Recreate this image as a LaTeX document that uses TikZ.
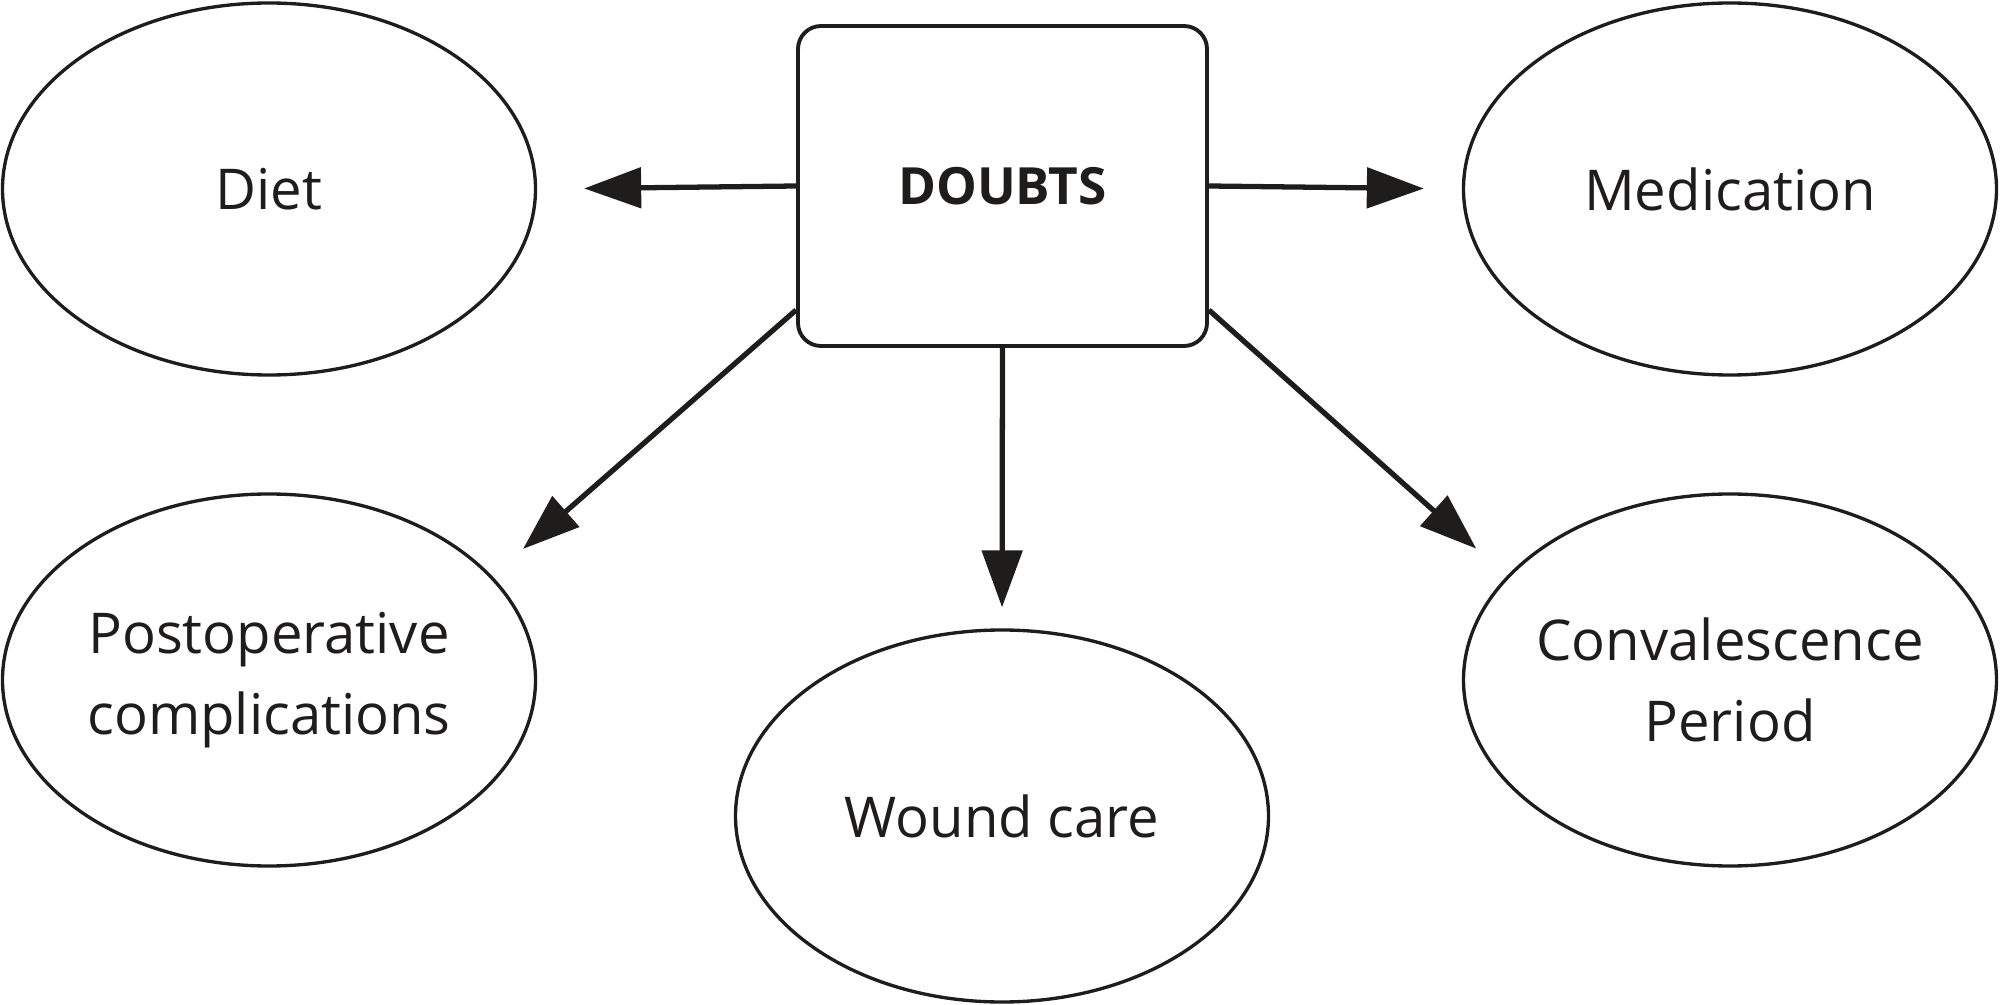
\documentclass[tikz,border=0pt]{standalone}
\usepackage{fontspec}
\setmainfont{Open Sans}
\usetikzlibrary{shapes.geometric,arrows.meta}
\definecolor{ink}{rgb}{0.12, 0.11, 0.11}

\begin{document}
\begin{tikzpicture}[
	topic/.style={ellipse,draw=ink,line width=0.95pt,minimum width=5.33cm,minimum height=3.72cm,inner ysep=0pt,inner xsep=-2mm,align=center,text=ink,font=\fontsize{16}{23.2}\selectfont},
	doubtbox/.style={rectangle,rounded corners=0.23cm,draw=ink,line width=1.1pt,minimum width=4.09cm,minimum height=3.2cm,text=ink,font=\fontsize{14.6}{20}\selectfont\bfseries},
	link/.style={draw=ink,line width=1.5pt,-{Triangle[length=5.7mm,width=4mm]}}]
	 	\useasboundingbox (0,0) rectangle (20,-10.05);
	 	\node[doubtbox] (doubts) at (10.025,-1.86) {DOUBTS};
	 	\node[topic] (diet) at (2.69,-1.89) {Diet};
	 	\node[topic] (medication) at (17.30,-1.89) {Medication};
	 	\node[topic] (postop) at (2.69,-6.80) {Postoperative\\complications};
	 	\node[topic] (wound) at (10.02,-8.16) {Wound care};
	 	\node[topic] (convalescence) at (17.30,-6.80) {Convalescence\\Period};
	 	\draw[link,shorten >=4.7mm] (doubts.west) -- (diet.east);
	 	\draw[link,shorten >=3.8mm] (doubts.east) -- (medication.west);
	 	\draw[link,shorten >=2.1mm] (doubts.south) -- (wound.north);
	 	\draw[link,shorten >=4.1mm] (doubts.211) -- (postop.25);
	 	\draw[link,shorten >=4.1mm] (doubts.329) -- (convalescence.155);
\end{tikzpicture}
\end{document}
